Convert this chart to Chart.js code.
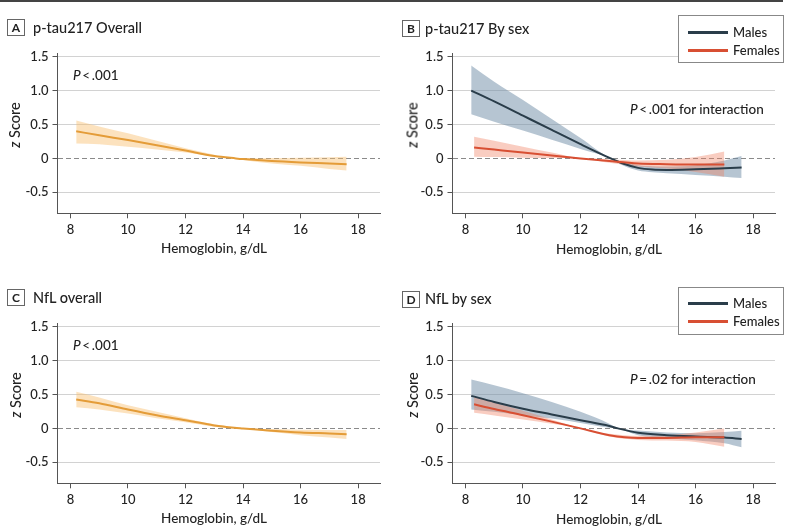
<!DOCTYPE html>
<html><head><meta charset="utf-8">
<script src="https://cdn.jsdelivr.net/npm/chart.js@4.4.0/dist/chart.umd.min.js"></script>
<style>
body{margin:0;background:#fff;}
#wrap{position:relative;width:800px;height:530px;background:#fff;overflow:hidden;font-family:Lato,"Noto Sans",sans-serif;font-weight:500;color:#222;}
.panel{position:absolute;width:400px;height:265px;}
.panel canvas{position:absolute;left:0;top:0;}
.lab{position:absolute;width:16px;height:15px;border:1px solid #666;font-weight:bold;font-size:12px;line-height:15px;text-align:center;}
.ttl{position:absolute;font-size:14.5px;white-space:nowrap;transform:translateY(-50%);}
.xt{position:absolute;font-size:13.5px;white-space:nowrap;transform:translate(-50%,-50%);}
.yt{position:absolute;font-size:14.5px;white-space:nowrap;transform:translate(-50%,-50%) rotate(-90deg);}
.pt{position:absolute;font-size:13.5px;white-space:nowrap;transform:translateY(-50%);}
.leg{position:absolute;border:1px solid #888;background:#fff;width:104px;height:46px;}
.leg .ln{position:absolute;left:9px;width:40px;height:3px;}
.leg .lt{position:absolute;left:54px;font-size:13px;transform:translateY(-50%);}
.topline{position:absolute;left:0;top:0;width:783px;height:2px;background:#444;}
</style></head>
<body>
<div id="wrap">
  <div class="topline"></div>
  <div class="panel" style="left:0;top:0">
    <canvas id="cA" width="400" height="265"></canvas>
    <div class="lab" style="left:7px;top:19px">A</div>
    <div class="ttl" style="left:33px;top:27px">p-tau217 Overall</div>
    <div class="yt" style="left:14px;top:125px"><i>z</i> Score</div>
    <div class="xt" style="left:214px;top:248px">Hemoglobin, g/dL</div>
    <div class="pt" style="left:73px;top:75px"><i>P</i>&thinsp;&lt;&thinsp;.001</div>
  </div>
  <div class="panel" style="left:400px;top:0">
    <canvas id="cB" width="400" height="265"></canvas>
    <div class="lab" style="left:2px;top:20px">B</div>
    <div class="ttl" style="left:25px;top:28px">p-tau217 By sex</div>
    <div class="yt" style="left:12px;top:125px"><i>z</i> Score</div>
    <div class="xt" style="left:209px;top:249px">Hemoglobin, g/dL</div>
    <div class="pt" style="left:230px;top:109px"><i>P</i>&thinsp;&lt;&thinsp;.001 for interaction</div>
    <div class="leg" style="left:278px;top:15px">
      <div class="ln" style="top:15px;background:#2a3d4a"></div><div class="lt" style="top:16px">Males</div>
      <div class="ln" style="top:33px;background:#d84f33"></div><div class="lt" style="top:34px">Females</div>
    </div>
  </div>
  <div class="panel" style="left:0;top:265px">
    <canvas id="cC" width="400" height="265"></canvas>
    <div class="lab" style="left:7px;top:24px">C</div>
    <div class="ttl" style="left:33px;top:32px">NfL overall</div>
    <div class="yt" style="left:15px;top:130px"><i>z</i> Score</div>
    <div class="xt" style="left:214px;top:253px">Hemoglobin, g/dL</div>
    <div class="pt" style="left:73px;top:80px"><i>P</i>&thinsp;&lt;&thinsp;.001</div>
  </div>
  <div class="panel" style="left:400px;top:265px">
    <canvas id="cD" width="400" height="265"></canvas>
    <div class="lab" style="left:2px;top:26px">D</div>
    <div class="ttl" style="left:25px;top:33px">NfL by sex</div>
    <div class="yt" style="left:12px;top:130px"><i>z</i> Score</div>
    <div class="xt" style="left:209px;top:254px">Hemoglobin, g/dL</div>
    <div class="pt" style="left:230px;top:114px"><i>P</i>&thinsp;=&thinsp;.02 for interaction</div>
    <div class="leg" style="left:278px;top:22px">
      <div class="ln" style="top:14px;background:#2a3d4a"></div><div class="lt" style="top:15px">Males</div>
      <div class="ln" style="top:32px;background:#d84f33"></div><div class="lt" style="top:33px">Females</div>
    </div>
  </div>
</div>
<script>
// ---- tick values ----
const xTicks = [8, 10, 12, 14, 16, 18];
const yTicks = [-0.5, 0, 0.5, 1.0, 1.5];

// ---- Panel A: p-tau217 overall ----
const hbPtauAll   = [8.2, 9, 10, 11, 12, 13, 13.75, 14, 15, 16, 17, 17.6];
const ptauAllMean = [0.40, 0.34, 0.27, 0.195, 0.115, 0.035, 0, -0.01, -0.04, -0.06, -0.075, -0.085];
const ptauAllUp   = [0.56, 0.47, 0.37, 0.26, 0.15, 0.055, 0, 0, 0.005, 0.01, 0.018, 0.025];
const ptauAllLow  = [0.22, 0.21, 0.17, 0.13, 0.085, 0.024, 0, -0.025, -0.075, -0.11, -0.155, -0.18];

// ---- Panel B: p-tau217 by sex ----
const hbPtauM   = [8.2, 9, 10, 11, 12, 13.05, 13.5, 14, 14.5, 15, 16, 17, 17.6];
const ptauMMean = [1.0, 0.84, 0.63, 0.42, 0.21, 0, -0.08, -0.14, -0.165, -0.17, -0.16, -0.145, -0.135];
const ptauMUp   = [1.37, 1.13, 0.86, 0.58, 0.30, 0, -0.05, -0.1, -0.115, -0.12, -0.1, -0.03, 0.035];
const ptauMLow  = [0.65, 0.54, 0.41, 0.275, 0.14, 0, -0.11, -0.18, -0.205, -0.22, -0.245, -0.27, -0.29];
const hbPtauF   = [8.3, 9, 10, 11, 12, 13, 14, 15, 16, 17];
const ptauFMean = [0.16, 0.13, 0.087, 0.043, 0, -0.04, -0.075, -0.085, -0.09, -0.09];
const ptauFUp   = [0.32, 0.26, 0.17, 0.085, 0, -0.015, -0.03, -0.02, 0.02, 0.10];
const ptauFLow  = [0.025, 0.02, 0.01, 0.005, 0, -0.065, -0.12, -0.15, -0.2, -0.27];

// ---- Panel C: NfL overall ----
const hbNflAll   = [8.2, 9, 10, 11, 12, 13, 13.7, 14, 15, 16, 17, 17.6];
const nflAllMean = [0.425, 0.37, 0.28, 0.195, 0.12, 0.044, 0.01, 0, -0.034, -0.06, -0.075, -0.085];
const nflAllUp   = [0.54, 0.455, 0.34, 0.245, 0.15, 0.06, 0.018, 0, -0.01, -0.02, -0.022, -0.025];
const nflAllLow  = [0.31, 0.28, 0.22, 0.15, 0.09, 0.025, 0.002, 0, -0.055, -0.1, -0.135, -0.155];

// ---- Panel D: NfL by sex ----
const hbNflM   = [8.2, 9, 10, 11, 12, 13, 13.3, 14, 15, 16, 17, 17.6];
const nflMMean = [0.48, 0.39, 0.29, 0.205, 0.12, 0.035, 0, -0.065, -0.1, -0.12, -0.135, -0.155];
const nflMUp   = [0.72, 0.635, 0.52, 0.39, 0.245, 0.07, 0, -0.03, -0.06, -0.07, -0.055, -0.035];
const nflMLow  = [0.28, 0.245, 0.195, 0.145, 0.08, 0.01, 0, -0.1, -0.14, -0.175, -0.22, -0.28];
const hbNflF   = [8.3, 9, 10, 11, 12, 13, 14, 15, 16, 17];
const nflFMean = [0.355, 0.285, 0.195, 0.1, 0, -0.1, -0.14, -0.14, -0.13, -0.13];
const nflFUp   = [0.47, 0.38, 0.26, 0.13, 0, -0.08, -0.11, -0.1, -0.06, 0.0];
const nflFLow  = [0.23, 0.19, 0.13, 0.07, 0, -0.12, -0.17, -0.18, -0.2, -0.27];

const COL = {
  overallLine: '#e49c38', overallBand: 'rgba(248,190,110,0.45)',
  maleLine: '#2a3d4a', maleBand: 'rgba(110,140,165,0.5)',
  femaleLine: '#d84f33', femaleBand: 'rgba(240,130,100,0.4)'
};
const FONT = 'Lato, "Noto Sans", sans-serif';

function pts(xs, ys) { return xs.map((x, i) => ({ x: x, y: ys[i] })); }
function bandSets(xs, lo, hi, band) {
  return [
    { data: pts(xs, hi), borderColor: 'transparent', borderWidth: 0, pointRadius: 0, fill: '+1', backgroundColor: band, order: 2, cubicInterpolationMode: 'monotone' },
    { data: pts(xs, lo), borderColor: 'transparent', borderWidth: 0, pointRadius: 0, fill: false, order: 2, cubicInterpolationMode: 'monotone' }
  ];
}
function lineSet(xs, mean, color) {
  return { data: pts(xs, mean), borderColor: color, borderWidth: 2, pointRadius: 0, fill: false, order: 1, cubicInterpolationMode: 'monotone' };
}

function makeChart(id, datasets, area) {
  new Chart(document.getElementById(id), {
    type: 'line',
    data: { datasets: datasets },
    options: {
      responsive: false, animation: false, events: [],
      layout: { padding: { left: 0, top: area.top, right: 400 - area.right, bottom: 0 } },
      plugins: { legend: { display: false }, tooltip: { enabled: false } },
      scales: {
        x: {
          type: 'linear', min: 7.55, max: 18.76,
          afterBuildTicks: s => { s.ticks = xTicks.map(v => ({ value: v })); },
          afterFit: s => { s.height = 265 - area.bottom; },
          grid: { drawOnChartArea: false, drawTicks: true, tickLength: 5, tickColor: '#555' },
          border: { color: '#555', width: 1 },
          ticks: { color: '#222', font: { family: FONT, size: 13, weight: 500 }, padding: 4, maxRotation: 0, autoSkip: false }
        },
        y: {
          type: 'linear', min: -0.81, max: 1.55,
          afterBuildTicks: s => { s.ticks = yTicks.map(v => ({ value: v })); },
          afterFit: s => { s.width = area.left; },
          grid: {
            color: c => (c.tick && c.tick.value === 0) ? '#8a8a8a' : '#d2d2d2',
            tickColor: '#555', tickLength: 5, lineWidth: 1
          },
          border: { color: '#555', width: 1, dash: c => (c.tick && c.tick.value === 0) ? [5, 3] : [] },
          ticks: { color: '#222', font: { family: FONT, size: 13, weight: 500 }, padding: 4,
                   callback: v => v === 0 ? '0' : Number(v).toFixed(1) }
        }
      }
    }
  });
}

makeChart('cA', [
  lineSet(hbPtauAll, ptauAllMean, COL.overallLine),
  ...bandSets(hbPtauAll, ptauAllLow, ptauAllUp, COL.overallBand)
], { left: 57.5, right: 380, top: 53.3, bottom: 213.3 });

makeChart('cB', [
  lineSet(hbPtauF, ptauFMean, COL.femaleLine),
  lineSet(hbPtauM, ptauMMean, COL.maleLine),
  ...bandSets(hbPtauF, ptauFLow, ptauFUp, COL.femaleBand),
  ...bandSets(hbPtauM, ptauMLow, ptauMUp, COL.maleBand)
], { left: 52.5, right: 375, top: 53.3, bottom: 213.3 });

makeChart('cC', [
  lineSet(hbNflAll, nflAllMean, COL.overallLine),
  ...bandSets(hbNflAll, nflAllLow, nflAllUp, COL.overallBand)
], { left: 57.5, right: 380, top: 58.3, bottom: 218.3 });

makeChart('cD', [
  lineSet(hbNflF, nflFMean, COL.femaleLine),
  lineSet(hbNflM, nflMMean, COL.maleLine),
  ...bandSets(hbNflF, nflFLow, nflFUp, COL.femaleBand),
  ...bandSets(hbNflM, nflMLow, nflMUp, COL.maleBand)
], { left: 52.5, right: 375, top: 58.3, bottom: 218.3 });
</script>
</body></html>
